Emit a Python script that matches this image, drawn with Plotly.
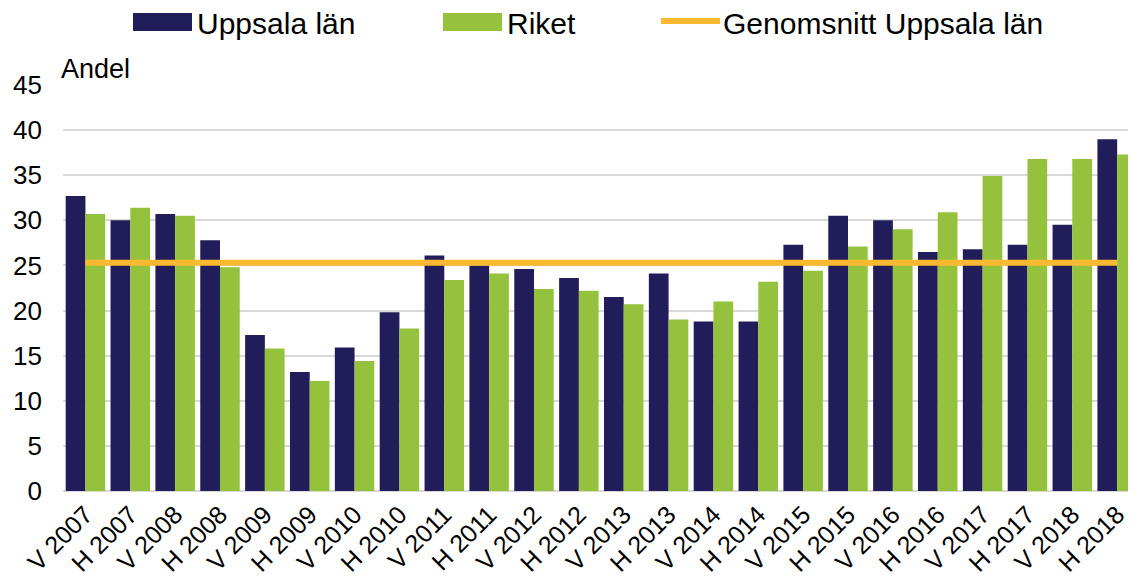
import plotly.graph_objects as go

# Half-year periods (V = vår, H = höst)
periods = [
    "V 2007", "H 2007", "V 2008", "H 2008", "V 2009", "H 2009",
    "V 2010", "H 2010", "V 2011", "H 2011", "V 2012", "H 2012",
    "V 2013", "H 2013", "V 2014", "H 2014", "V 2015", "H 2015",
    "V 2016", "H 2016", "V 2017", "H 2017", "V 2018", "H 2018",
]

uppsala = [
    32.7, 30.0, 30.7, 27.8, 17.3, 13.2,
    15.9, 19.8, 26.1, 25.0, 24.6, 23.6,
    21.5, 24.1, 18.8, 18.8, 27.3, 30.5,
    30.0, 26.5, 26.8, 27.3, 29.5, 39.0,
]

riket = [
    30.7, 31.4, 30.5, 24.8, 15.8, 12.2,
    14.4, 18.0, 23.4, 24.1, 22.4, 22.2,
    20.7, 19.0, 21.0, 23.2, 24.4, 27.1,
    29.0, 30.9, 34.9, 36.8, 36.8, 37.3,
]

avg_uppsala = 25.3

DARK = "#211C5A"
GREEN = "#95C23D"
ORANGE = "#FBB932"
FONT = "Liberation Sans, Arial, sans-serif"

W, H = 1136, 583
# the page has an 8px body margin, so figure pixel = page pixel - 8
OFF = 8
M_L, M_T, M_R, M_B = 55, 77, 8, 100
PLOT_W = W - M_L - M_R
PLOT_H = H - M_T - M_B


def px(x):
    """page pixel x -> paper x"""
    return (x - OFF - M_L) / PLOT_W


def py(y):
    """page pixel y -> paper y"""
    return (H - M_B - (y - OFF)) / PLOT_H


fig = go.Figure()

fig.add_trace(go.Bar(
    x=periods, y=uppsala, name="Uppsala län",
    marker=dict(color=DARK, line=dict(width=0)), showlegend=False,
))
fig.add_trace(go.Bar(
    x=periods, y=riket, name="Riket",
    marker=dict(color=GREEN, line=dict(width=0)), showlegend=False,
))
fig.add_trace(go.Scatter(
    x=[periods[0], periods[-1]], y=[avg_uppsala, avg_uppsala],
    mode="lines", name="Genomsnitt Uppsala län",
    line=dict(color=ORANGE, width=6), showlegend=False,
))

# legend drawn by hand: wide swatches like the original
legend_items = [
    ("rect", DARK, 133, "Uppsala län"),
    ("rect", GREEN, 443, "Riket"),
    ("line", ORANGE, 659, "Genomsnitt Uppsala län"),
]
shapes = []
annotations = []
for kind, color, x0, label in legend_items:
    if kind == "rect":
        shapes.append(dict(
            type="rect", xref="paper", yref="paper",
            x0=px(x0), x1=px(x0 + 59), y0=py(31), y1=py(13),
            fillcolor=color, line=dict(width=0),
        ))
    else:
        shapes.append(dict(
            type="line", xref="paper", yref="paper",
            x0=px(x0 + 2), x1=px(x0 + 61), y0=py(21), y1=py(21),
            line=dict(color=color, width=6),
        ))
    annotations.append(dict(
        text=label, xref="paper", yref="paper",
        x=px(x0 + 62), y=py(24), xanchor="left", yanchor="middle",
        showarrow=False, font=dict(size=30),
    ))

annotations.append(dict(
    text="Andel", xref="paper", yref="paper",
    x=px(59), y=py(69), xanchor="left", yanchor="middle",
    showarrow=False, font=dict(size=27),
))

fig.update_layout(
    width=W, height=H,
    margin=dict(l=M_L, r=M_R, t=M_T, b=M_B),
    paper_bgcolor="white", plot_bgcolor="white",
    barmode="group", bargap=0.12, bargroupgap=0,
    font=dict(family=FONT, size=24, color="#000000"),
    showlegend=False,
    shapes=shapes,
    annotations=annotations,
)

fig.update_xaxes(
    range=[-0.5, 23.42], tickangle=-45, showgrid=False, automargin=False,
    showline=False, ticks="", tickfont=dict(size=25), ticklabelstandoff=3,
)
fig.update_yaxes(
    range=[0, 45], dtick=5, showgrid=True, gridcolor="#D9D9D9", gridwidth=2,
    zeroline=True, zerolinecolor="#D9D9D9", zerolinewidth=2, automargin=False,
    ticks="", tickfont=dict(size=26), ticklabelstandoff=20,
)

fig.write_html("out.html")
